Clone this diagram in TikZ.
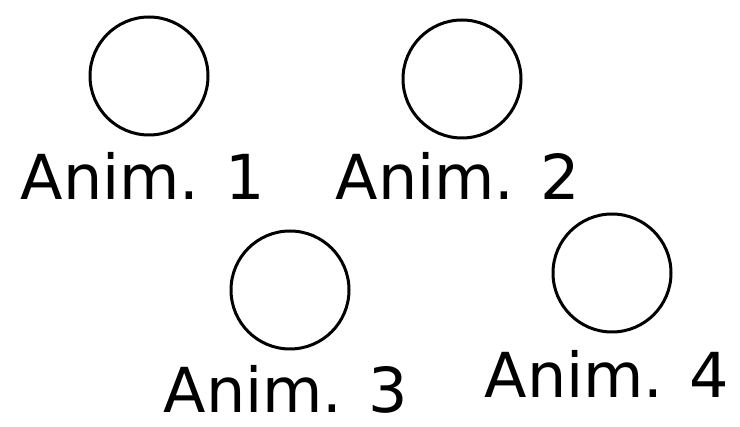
\documentclass[tikz,border=0pt]{standalone}
\usepackage{fontspec}
\setmainfont{DejaVu Sans}
\begin{document}
\begin{tikzpicture}[x=1pt, y=-1pt,
		anim/.style={draw, circle, line width=3pt, minimum size=118pt, inner sep=0pt},
		lab/.style={anchor=base, inner sep=0pt, font=\fontsize{62}{70}\selectfont}]
		\useasboundingbox (0, 0) rectangle (740, 427);
		\node[anim] (c1) at (149, 76) {}; % first
		\node[lab] (l1) at (143, 200) {Anim. 1};
		\node[anim] (c2) at (462, 79) {}; % second
		\node[lab] (l2) at (458, 200) {Anim. 2};
		\node[anim] (c3) at (290, 290) {}; % third
		\node[lab] (l3) at (286, 413) {Anim. 3};
		\node[anim] (c4) at (612, 273) {}; % fourth
		\node[lab] (l4) at (607, 398) {Anim. 4};
	\end{tikzpicture}
\end{document}
